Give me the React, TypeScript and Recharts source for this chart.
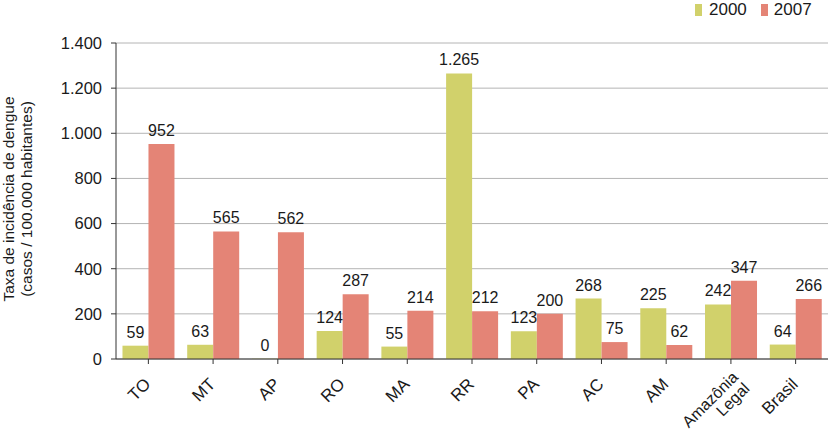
import React from "react";
import { BarChart, Bar, XAxis, YAxis, CartesianGrid } from "recharts";

const categories: string[] = ["TO", "MT", "AP", "RO", "MA", "RR", "PA", "AC", "AM", "Amazônia Legal", "Brasil"];
const values2000: number[] = [59, 63, 0, 124, 55, 1265, 123, 268, 225, 242, 64];
const values2007: number[] = [952, 565, 562, 287, 214, 212, 200, 75, 62, 347, 266];
const yTicks: number[] = [0, 200, 400, 600, 800, 1000, 1200, 1400];

const GREEN = "#d1d16b";
const RED = "#e48476";
const FONT = "'Liberation Sans', Arial, sans-serif";
const INK = "#1a1a1a";

const fmt = (v: number) => v.toLocaleString("pt-BR");

const data = categories.map((c, i) => ({ name: c, a: values2000[i], b: values2007[i] }));

const XTick = ({ x, y, payload }: any) => {
  const lines: string[] = payload.value.split(" ");
  const multi = lines.length > 1;
  return (
    <g transform={`translate(${x + (multi ? 4 : -1)},${y + (multi ? 8 : 15)})`}>
      <text transform="rotate(-45)" textAnchor="end" fontSize={multi ? 16 : 17} fontFamily={FONT} fill={INK}>
        {lines.map((l, i) => (
          <tspan key={i} x={0} dy={i === 0 ? 6 : 16}>
            {l}
          </tspan>
        ))}
      </text>
    </g>
  );
};

// draws the value above each bar
const ValueLabel = (props: any) => {
  const { x, y, width, value } = props;
  return (
    <text x={x + width / 2} y={y - 8} textAnchor="middle" fontSize={16} fontFamily={FONT} fill={INK}>
      {fmt(Number(value))}
    </text>
  );
};

export default function App() {
  return (
    <div style={{ position: "absolute", left: 0, top: 0, width: 829, height: 432, background: "#fff" }}>
      <BarChart
        width={829}
        height={432}
        data={data}
        margin={{ top: 43, right: 1, left: 0, bottom: 0 }}
        barCategoryGap="10%"
        barGap={0}
      >
        <CartesianGrid vertical={false} stroke="#b4b4b4" strokeWidth={1} />
        <XAxis
          dataKey="name"
          interval={0}
          height={73}
          tick={<XTick />}
          tickLine={{ stroke: "#333" }}
          tickSize={5}
          axisLine={{ stroke: "#333" }}
        />
        <YAxis
          width={116}
          domain={[0, 1400]}
          ticks={yTicks}
          tickFormatter={fmt}
          tick={{ fill: INK, fontSize: 16.5, fontFamily: FONT }}
          tickLine={{ stroke: "#333" }}
          tickSize={5}
          tickMargin={9}
          axisLine={{ stroke: "#333" }}
        />
        <Bar dataKey="a" fill={GREEN} minPointSize={0.3} isAnimationActive={false} label={<ValueLabel />} />
        <Bar dataKey="b" fill={RED} isAnimationActive={false} label={<ValueLabel />} />
        <text
          transform="translate(14,199) rotate(-90)"
          textAnchor="middle"
          fontSize={15.5}
          fontFamily={FONT}
          fill={INK}
        >
          <tspan x={0} dy={0}>Taxa de incidência de dengue</tspan>
          <tspan x={0} dy={18}>(casos / 100.000 habitantes)</tspan>
        </text>
      </BarChart>
      <div
        style={{
          position: "absolute",
          left: 695,
          top: 0,
          display: "flex",
          alignItems: "center",
          fontFamily: FONT,
          fontSize: 17,
          lineHeight: "20px",
          color: INK,
        }}
      >
        <span style={{ width: 7, height: 12, background: GREEN, display: "inline-block", marginRight: 7 }} />
        <span style={{ marginRight: 14 }}>2000</span>
        <span style={{ width: 7, height: 12, background: RED, display: "inline-block", marginRight: 6 }} />
        <span>2007</span>
      </div>
    </div>
  );
}
